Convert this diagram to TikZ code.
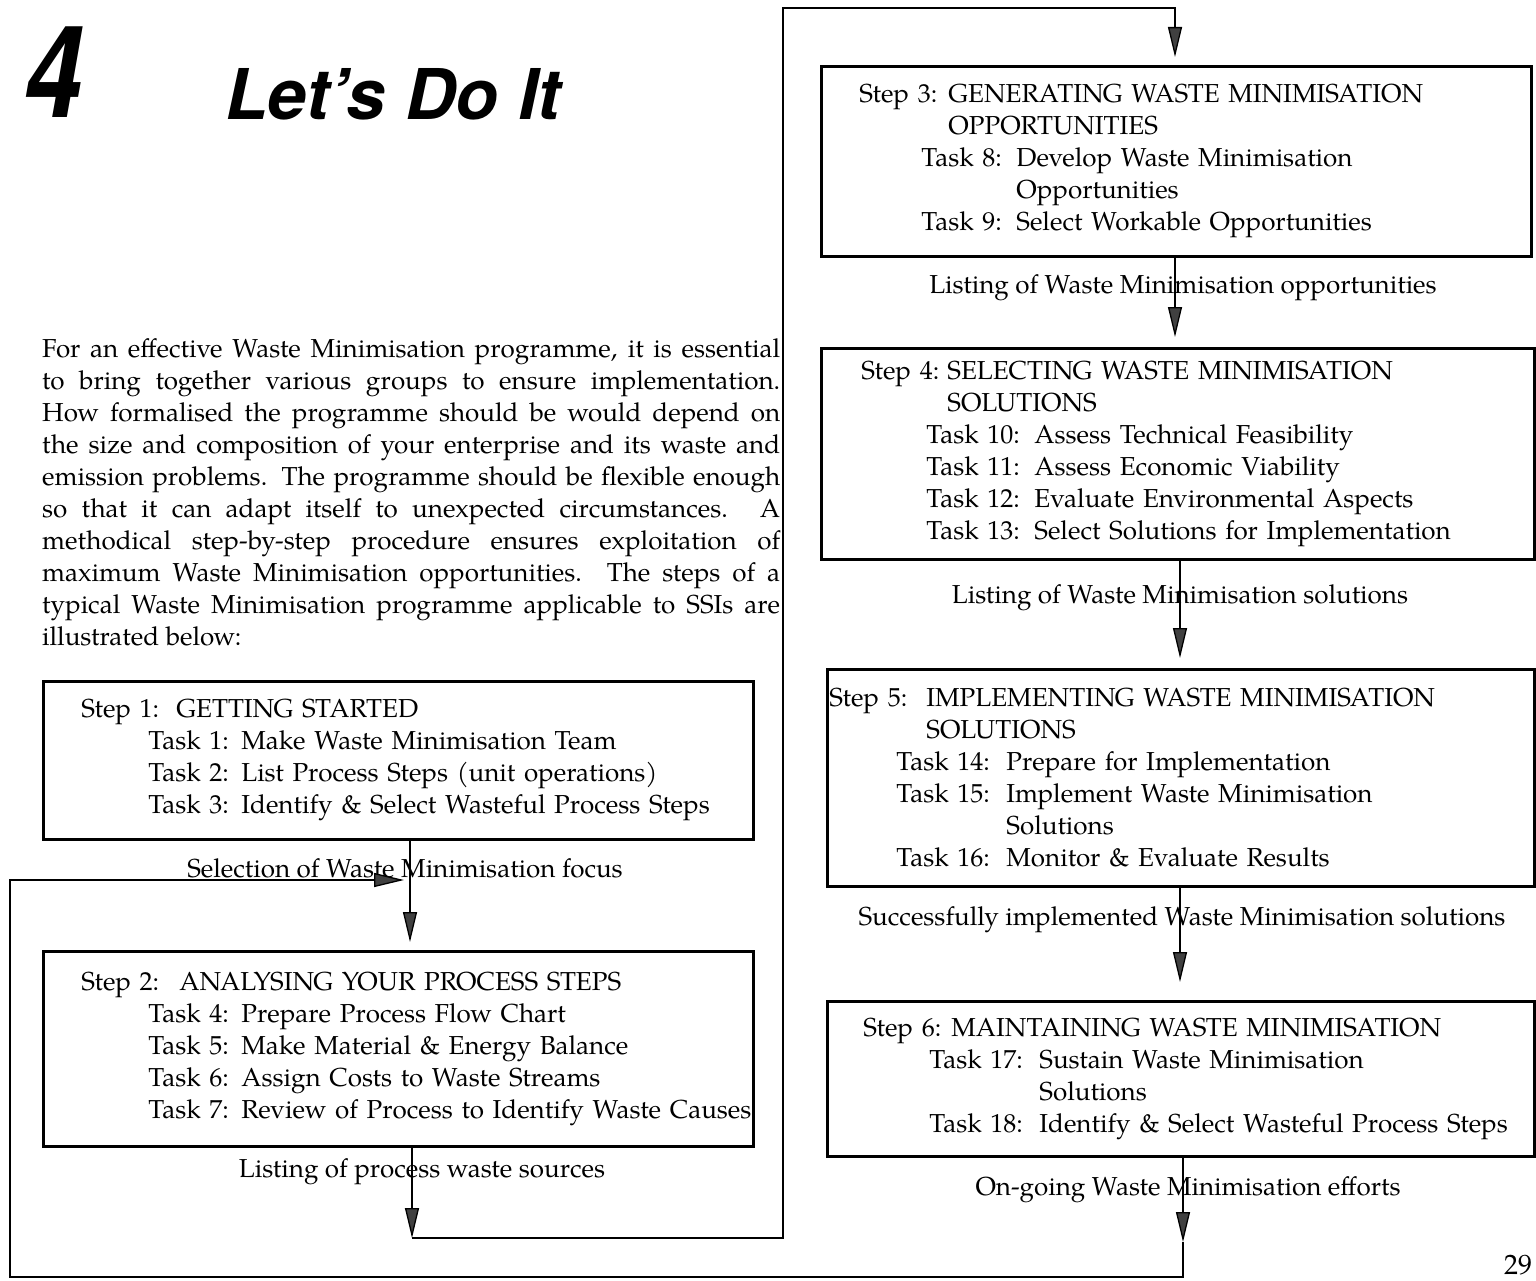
\documentclass[tikz,border=0pt]{standalone}
\usepackage{fontspec}
\setmainfont{TeX Gyre Pagella}
\newfontfamily\headfont{TeX Gyre Heros}
\usetikzlibrary{arrows.meta}
\usetikzlibrary{calc}
\tikzstyle{stepbox}=[draw, line width=2.8pt, anchor=north west, inner ysep=0pt, align=left, font=\fontsize{26}{32}\selectfont]
\tikzstyle{flowlabel}=[inner sep=0pt, font=\fontsize{26}{32}\selectfont]
\tikzstyle{link}=[line width=1.3pt]
\tikzstyle{flow}=[link, -{Triangle[width=14pt,length=30pt,fill=black!75]}]
% one line of a box: step heading, or an indented task
\newcommand{\stepln}[3]{\makebox[\linewidth][l]{\makebox[#1][l]{#2}#3}}
\newcommand{\taskln}[4]{\makebox[\linewidth][l]{\hspace*{#1}\makebox[#2][l]{#3}#4}}
\newcommand{\moreln}[2]{\makebox[\linewidth][l]{\hspace*{#1}#2}}
\newcommand{\fullln}[1]{\makebox[738pt][s]{#1}}

\begin{document}
\begin{tikzpicture}[x=1pt,y=-1pt]
  \useasboundingbox (0,0) rectangle (1536,1281);
  % heading
  \node (num) [anchor=base west, inner sep=0pt, font=\headfont\bfseries\itshape\fontsize{128}{128}\selectfont] at (24,118) {\scalebox{0.82}[1]{4}};
  \node (title) [anchor=base west, inner sep=0pt, font=\headfont\bfseries\itshape\fontsize{70}{70}\selectfont] at (225,120) {Let’s Do It};
  \node (intro) [anchor=north west, inner sep=0pt, align=left, font=\fontsize{26}{32}\selectfont] at (42,338) {%
    \fullln{For an effective Waste Minimisation programme, it is essential}\\
    \fullln{to bring together various groups to ensure implementation.}\\
    \fullln{How formalised the programme should be would depend on}\\
    \fullln{the size and composition of your enterprise and its waste and}\\
    \fullln{emission problems. The programme should be flexible enough}\\
    \fullln{so that it can adapt itself to unexpected circumstances. A}\\
    \fullln{methodical step-by-step procedure ensures exploitation of}\\
    \fullln{maximum Waste Minimisation opportunities. The steps of a}\\
    \fullln{typical Waste Minimisation programme applicable to SSIs are}\\
    illustrated below:};
  % left column
  \node (s1) [stepbox, minimum width=710pt, minimum height=158pt, inner xsep=38pt, text width=634pt] at (42,680) {%
    \stepln{95pt}{Step 1:}{GETTING STARTED}\\
    \taskln{67pt}{93pt}{Task 1:}{Make Waste Minimisation Team}\\
    \taskln{67pt}{93pt}{Task 2:}{List Process Steps (unit operations)}\\
    \taskln{67pt}{93pt}{Task 3:}{Identify \& Select Wasteful Process Steps}};
  \node (s2) [stepbox, minimum width=710pt, minimum height=195pt, inner xsep=38pt, text width=634pt] at (42,950) {%
    \stepln{98pt}{Step 2:}{ANALYSING YOUR PROCESS STEPS}\\
    \taskln{67pt}{93pt}{Task 4:}{Prepare Process Flow Chart}\\
    \taskln{67pt}{93pt}{Task 5:}{Make Material \& Energy Balance}\\
    \taskln{67pt}{93pt}{Task 6:}{Assign Costs to Waste Streams}\\
    \taskln{67pt}{93pt}{Task 7:}{Review of Process to Identify Waste Causes}};
  % right column
  \node (s3) [stepbox, minimum width=710pt, minimum height=190pt, inner xsep=38pt, text width=634pt] at (820,65) {%
    \stepln{89pt}{Step 3:}{GENERATING WASTE MINIMISATION}\\
    \moreln{89pt}{OPPORTUNITIES}\\
    \taskln{62pt}{95pt}{Task 8:}{Develop Waste Minimisation}\\
    \moreln{157pt}{Opportunities}\\
    \taskln{62pt}{95pt}{Task 9:}{Select Workable Opportunities}};
  \node (s4) [stepbox, minimum width=713pt, minimum height=211pt, inner xsep=40pt, text width=633pt] at (820,347) {%
    \stepln{86pt}{Step 4:}{SELECTING WASTE MINIMISATION}\\
    \moreln{86pt}{SOLUTIONS}\\
    \taskln{65pt}{108pt}{Task 10:}{Assess Technical Feasibility}\\
    \taskln{65pt}{108pt}{Task 11:}{Assess Economic Viability}\\
    \taskln{65pt}{108pt}{Task 12:}{Evaluate Environmental Aspects}\\
    \taskln{65pt}{108pt}{Task 13:}{Select Solutions for Implementation}};
  \node (s5) [stepbox, minimum width=707pt, minimum height=217pt, inner xsep=2pt, text width=703pt] at (826,668) {%
    \stepln{97pt}{Step 5:}{IMPLEMENTING WASTE MINIMISATION}\\
    \moreln{97pt}{SOLUTIONS}\\
    \taskln{67pt}{110pt}{Task 14:}{Prepare for Implementation}\\
    \taskln{67pt}{110pt}{Task 15:}{Implement Waste Minimisation}\\
    \moreln{177pt}{Solutions}\\
    \taskln{67pt}{110pt}{Task 16:}{Monitor \& Evaluate Results}};
  \node (s6) [stepbox, minimum width=707pt, minimum height=155pt, inner xsep=36pt, text width=635pt] at (826,1000) {%
    \stepln{88pt}{Step 6:}{MAINTAINING WASTE MINIMISATION}\\
    \taskln{66pt}{110pt}{Task 17:}{Sustain Waste Minimisation}\\
    \moreln{176pt}{Solutions}\\
    \taskln{66pt}{110pt}{Task 18:}{Identify \& Select Wasteful Process Steps}};
  % outputs of each step
  \node (l1) [flowlabel] at (405,868) {Selection of Waste Minimisation focus};
  \node (l2) [flowlabel] at (422,1172) {Listing of process waste sources};
  \node (l3) [flowlabel] at (1183,288) {Listing of Waste Minimisation opportunities};
  \node (l4) [flowlabel] at (1180,598) {Listing of Waste Minimisation solutions};
  \node (l5) [flowlabel] at (1182,920) {Successfully implemented Waste Minimisation solutions};
  \node (l6) [flowlabel] at (1188,1190) {On-going Waste Minimisation efforts};
  \node (page) [anchor=base west, inner sep=0pt, font=\fontsize{28}{28}\selectfont] at (1504,1274) {29};
  % connectors
  \coordinate (x12) at (410,0);
  \coordinate (x23) at (412,0);
  \coordinate (x34) at (1175,0);
  \coordinate (x56) at (1180,0);
  \coordinate (x6) at (1183,0);
  \coordinate (b2) at (412,1238);
  \coordinate (rail) at (783,8);
  \coordinate (b6) at (1183,1242);
  \coordinate (back) at (10,880);
  \coordinate (join) at (404,880);
  \draw[flow, shorten >=8pt] (s1.south -| x12) -- (s2.north -| x12);
  \draw[flow] (s2.south -| x23) -- (b2);
  \draw[flow, shorten >=8pt] (b2) -| (rail) -| (s3.north -| x34);
  \draw[flow, shorten >=10pt] (s3.south -| x34) -- (s4.north -| x34);
  \draw[flow, shorten >=10pt] (s4.south -| x56) -- (s5.north -| x56);
  \draw[flow, shorten >=18pt] (s5.south -| x56) -- (s6.north -| x56);
  \draw[flow] (s6.south -| x6) -- (b6);
  \draw[flow] (b6) -- (1183,1277) -| (back) -- (join);
\end{tikzpicture}
\end{document}
